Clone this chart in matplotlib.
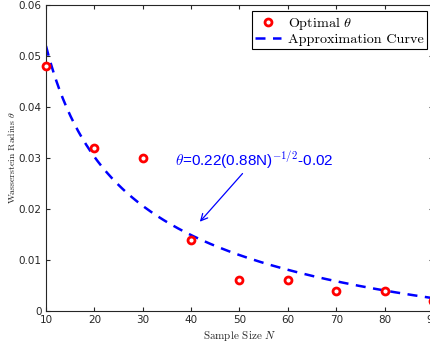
import numpy as np
import matplotlib
matplotlib.use("Agg")
import matplotlib.pyplot as plt

plt.rcParams['mathtext.fontset'] = 'cm'
plt.rcParams['axes.unicode_minus'] = False

# Data
sample_sizes = [10, 20, 30, 40, 50, 60, 70, 80, 90]
optimal_theta = [0.048, 0.032, 0.030, 0.014, 0.006, 0.006, 0.004, 0.004, 0.002]

# Approximation curve parameters (theta = coef*(scale*N)^(-1/2) + offset)
curve_coef = 0.22
curve_scale = 0.88
curve_offset = -0.0222

x_ticks = [10, 20, 30, 40, 50, 60, 70, 80, 90]
y_ticks = [0, 0.01, 0.02, 0.03, 0.04, 0.05, 0.06]
y_tick_labels = ['0', '0.01', '0.02', '0.03', '0.04', '0.05', '0.06']

fig = plt.figure(figsize=(4.31, 3.42), dpi=100)
ax = fig.add_axes([46/431, 1-311/342, 387/431, 306/342])

N_curve = np.linspace(10, 90, 300)
theta_curve = curve_coef * (curve_scale * N_curve) ** (-0.5) + curve_offset

ax.plot(sample_sizes, optimal_theta, linestyle='none', marker='o', markersize=5,
        markerfacecolor='white', markeredgecolor='red', markeredgewidth=2,
        label=r'Optimal $\theta$', clip_on=False, zorder=3)
ax.plot(N_curve, theta_curve, color='blue', linestyle=(0, (4, 3)), linewidth=1.8,
        label='Approximation Curve', zorder=2)

ax.set_xlim(10, 90)
ax.set_ylim(0, 0.06)
ax.set_xticks(x_ticks)
ax.set_yticks(y_ticks)
ax.set_yticklabels(y_tick_labels)
ax.tick_params(direction='in', top=True, right=True, labelsize=7.5, colors='#262626',
               length=3, width=0.8, pad=3)
for s in ax.spines.values():
    s.set_color('#262626')
    s.set_linewidth(0.8)

ax.set_xlabel(r'Sample Size $N$', fontfamily='cmr10', fontsize=8, color='#262626', labelpad=3)
ax.set_ylabel(r'Wasserstein Radius $\theta$', fontfamily='cmr10', fontsize=7, color='#262626', labelpad=1)

leg = ax.legend(loc='upper right', prop={'family': 'cmr10', 'size': 10.2},
                frameon=True, fancybox=False, edgecolor='black', framealpha=1,
                borderpad=0.25, handlelength=1.8, handletextpad=0.5, labelspacing=0.1,
                borderaxespad=0,
                bbox_to_anchor=(427/431, 1 - 11/342), bbox_transform=fig.transFigure)
leg.get_frame().set_linewidth(0.8)

ax.annotate(r'$\theta$=0.22(0.88N)$^{\mathsf{-1/2}}$-0.02', xy=(41.8, 0.0175),
            xytext=(36.7, 0.0296), color='blue', fontsize=11, fontfamily='Liberation Sans',
            va='center', ha='left',
            arrowprops=dict(arrowstyle='->', color='blue', lw=0.9, shrinkA=0, shrinkB=0,
                            mutation_scale=12),
            )

fig.savefig('out.png', dpi=100)
